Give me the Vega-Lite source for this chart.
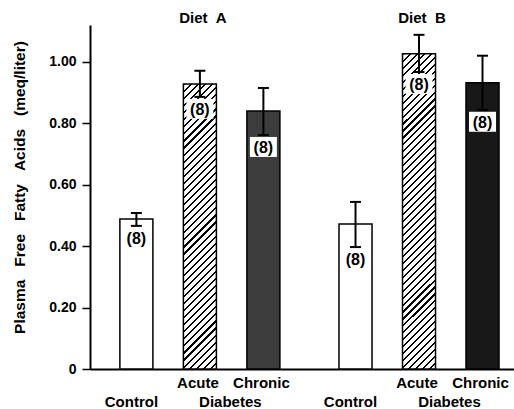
{
"$schema": "https://vega.github.io/schema/vega-lite/v6.json",
"width": 424, "height": 344,
"autosize": {"type": "none"},
"padding": {"left": 90, "top": 25, "right": 0, "bottom": 40},
"background": "#ffffff",
"config": {"view": {"stroke": null}, "font": "Liberation Sans"},
"data": {"values": [
{"diet":"Diet A","cond":"Control","mean":0.488,"lo":0.466,"hi":0.508,"n":"(8)"},
{"diet":"Diet A","cond":"Acute","mean":0.928,"lo":0.886,"hi":0.971,"n":"(8)"},
{"diet":"Diet A","cond":"Chronic","mean":0.840,"lo":0.762,"hi":0.915,"n":"(8)"},
{"diet":"Diet B","cond":"Control","mean":0.472,"lo":0.397,"hi":0.544,"n":"(8)"},
{"diet":"Diet B","cond":"Acute","mean":1.026,"lo":0.967,"hi":1.088,"n":"(8)"},
{"diet":"Diet B","cond":"Chronic","mean":0.932,"lo":0.844,"hi":1.020,"n":"(8)"}
]},
"encoding": {
  "x":{"field":"diet","type":"nominal","scale":{"domain":["Diet A","Diet B"],"paddingInner":0.133,"paddingOuter":0.034,"align":1},
   "axis":{"title":null,"labels":false,"ticks":false,"domain":true,"domainColor":"#000000","domainWidth":2,"grid":false}},
  "xOffset":{"field":"cond","type":"nominal","scale":{"domain":["Control","Acute","Chronic"],"paddingInner":0.48,"paddingOuter":0.236}}
},
"layer": [
{"transform":[{"filter":"datum.cond == 'Control'"}],
 "mark":{"type":"bar","fill":"#ffffff","stroke":"#000000","strokeWidth":1.5},
 "encoding":{
  "y":{"field":"mean","type":"quantitative","scale":{"domain":[0,1.12],"nice":false},
   "axis":{"title":"Plasma\u00a0\u00a0\u00a0Free\u00a0\u00a0\u00a0Fatty\u00a0\u00a0\u00a0Acids\u00a0\u00a0\u00a0(meq/liter)","titleFont":"Liberation Sans","titleFontSize":15.5,"titleFontWeight":"bold","titleColor":"#000000","titlePadding":21,"titleY":162,
    "values":[0,0.2,0.4,0.6,0.8,1],"labelExpr":"datum.value == 0 ? '0' : format(datum.value, '.2f')","labelFont":"Liberation Sans","labelFontSize":14,"labelFontWeight":"bold","labelColor":"#000000","labelPadding":6,
    "tickSize":8,"tickWidth":1.5,"tickColor":"#000000","domainColor":"#000000","domainWidth":2,"grid":false}}
 }},
{"transform":[{"filter":"datum.cond == 'Acute' && datum.diet == 'Diet A'"}],
 "mark":{"type":"bar","stroke":"#000000","strokeWidth":1.5,
  "fill":{"gradient":"linear","x1":0,"y1":0,"x2":0.1275,"y2":1.101,"stops":[
{"offset":0,"color":"#000"},{"offset":0.00667,"color":"#000"},{"offset":0.00667,"color":"#fff"},
{"offset":0.02222,"color":"#fff"},{"offset":0.02222,"color":"#000"},{"offset":0.02889,"color":"#000"},{"offset":0.02889,"color":"#fff"},
{"offset":0.04444,"color":"#fff"},{"offset":0.04444,"color":"#000"},{"offset":0.05111,"color":"#000"},{"offset":0.05111,"color":"#fff"},
{"offset":0.06667,"color":"#fff"},{"offset":0.06667,"color":"#000"},{"offset":0.07333,"color":"#000"},{"offset":0.07333,"color":"#fff"},
{"offset":0.08889,"color":"#fff"},{"offset":0.08889,"color":"#000"},{"offset":0.09556,"color":"#000"},{"offset":0.09556,"color":"#fff"},
{"offset":0.11111,"color":"#fff"},{"offset":0.11111,"color":"#000"},{"offset":0.11778,"color":"#000"},{"offset":0.11778,"color":"#fff"},
{"offset":0.13333,"color":"#fff"},{"offset":0.13333,"color":"#000"},{"offset":0.14,"color":"#000"},{"offset":0.14,"color":"#fff"},
{"offset":0.15556,"color":"#fff"},{"offset":0.15556,"color":"#000"},{"offset":0.16222,"color":"#000"},{"offset":0.16222,"color":"#fff"},
{"offset":0.17778,"color":"#fff"},{"offset":0.17778,"color":"#000"},{"offset":0.18444,"color":"#000"},{"offset":0.18444,"color":"#fff"},
{"offset":0.2,"color":"#fff"},{"offset":0.2,"color":"#000"},{"offset":0.20667,"color":"#000"},{"offset":0.20667,"color":"#fff"},
{"offset":0.22222,"color":"#fff"},{"offset":0.22222,"color":"#000"},{"offset":0.22889,"color":"#000"},{"offset":0.22889,"color":"#fff"},
{"offset":0.24444,"color":"#fff"},{"offset":0.24444,"color":"#000"},{"offset":0.25111,"color":"#000"},{"offset":0.25111,"color":"#fff"},
{"offset":0.26667,"color":"#fff"},{"offset":0.26667,"color":"#000"},{"offset":0.27333,"color":"#000"},{"offset":0.27333,"color":"#fff"},
{"offset":0.28889,"color":"#fff"},{"offset":0.28889,"color":"#000"},{"offset":0.29556,"color":"#000"},{"offset":0.29556,"color":"#fff"},
{"offset":0.31111,"color":"#fff"},{"offset":0.31111,"color":"#000"},{"offset":0.31778,"color":"#000"},{"offset":0.31778,"color":"#fff"},
{"offset":0.33333,"color":"#fff"},{"offset":0.33333,"color":"#000"},{"offset":0.34,"color":"#000"},{"offset":0.34,"color":"#fff"},
{"offset":0.35556,"color":"#fff"},{"offset":0.35556,"color":"#000"},{"offset":0.36222,"color":"#000"},{"offset":0.36222,"color":"#fff"},
{"offset":0.37778,"color":"#fff"},{"offset":0.37778,"color":"#000"},{"offset":0.38444,"color":"#000"},{"offset":0.38444,"color":"#fff"},
{"offset":0.4,"color":"#fff"},{"offset":0.4,"color":"#000"},{"offset":0.40667,"color":"#000"},{"offset":0.40667,"color":"#fff"},
{"offset":0.42222,"color":"#fff"},{"offset":0.42222,"color":"#000"},{"offset":0.42889,"color":"#000"},{"offset":0.42889,"color":"#fff"},
{"offset":0.44444,"color":"#fff"},{"offset":0.44444,"color":"#000"},{"offset":0.45111,"color":"#000"},{"offset":0.45111,"color":"#fff"},
{"offset":0.46667,"color":"#fff"},{"offset":0.46667,"color":"#000"},{"offset":0.47333,"color":"#000"},{"offset":0.47333,"color":"#fff"},
{"offset":0.48889,"color":"#fff"},{"offset":0.48889,"color":"#000"},{"offset":0.49556,"color":"#000"},{"offset":0.49556,"color":"#fff"},
{"offset":0.51111,"color":"#fff"},{"offset":0.51111,"color":"#000"},{"offset":0.51778,"color":"#000"},{"offset":0.51778,"color":"#fff"},
{"offset":0.53333,"color":"#fff"},{"offset":0.53333,"color":"#000"},{"offset":0.54,"color":"#000"},{"offset":0.54,"color":"#fff"},
{"offset":0.55556,"color":"#fff"},{"offset":0.55556,"color":"#000"},{"offset":0.56222,"color":"#000"},{"offset":0.56222,"color":"#fff"},
{"offset":0.57778,"color":"#fff"},{"offset":0.57778,"color":"#000"},{"offset":0.58444,"color":"#000"},{"offset":0.58444,"color":"#fff"},
{"offset":0.6,"color":"#fff"},{"offset":0.6,"color":"#000"},{"offset":0.60667,"color":"#000"},{"offset":0.60667,"color":"#fff"},
{"offset":0.62222,"color":"#fff"},{"offset":0.62222,"color":"#000"},{"offset":0.62889,"color":"#000"},{"offset":0.62889,"color":"#fff"},
{"offset":0.64444,"color":"#fff"},{"offset":0.64444,"color":"#000"},{"offset":0.65111,"color":"#000"},{"offset":0.65111,"color":"#fff"},
{"offset":0.66667,"color":"#fff"},{"offset":0.66667,"color":"#000"},{"offset":0.67333,"color":"#000"},{"offset":0.67333,"color":"#fff"},
{"offset":0.68889,"color":"#fff"},{"offset":0.68889,"color":"#000"},{"offset":0.69556,"color":"#000"},{"offset":0.69556,"color":"#fff"},
{"offset":0.71111,"color":"#fff"},{"offset":0.71111,"color":"#000"},{"offset":0.71778,"color":"#000"},{"offset":0.71778,"color":"#fff"},
{"offset":0.73333,"color":"#fff"},{"offset":0.73333,"color":"#000"},{"offset":0.74,"color":"#000"},{"offset":0.74,"color":"#fff"},
{"offset":0.75556,"color":"#fff"},{"offset":0.75556,"color":"#000"},{"offset":0.76222,"color":"#000"},{"offset":0.76222,"color":"#fff"},
{"offset":0.77778,"color":"#fff"},{"offset":0.77778,"color":"#000"},{"offset":0.78444,"color":"#000"},{"offset":0.78444,"color":"#fff"},
{"offset":0.8,"color":"#fff"},{"offset":0.8,"color":"#000"},{"offset":0.80667,"color":"#000"},{"offset":0.80667,"color":"#fff"},
{"offset":0.82222,"color":"#fff"},{"offset":0.82222,"color":"#000"},{"offset":0.82889,"color":"#000"},{"offset":0.82889,"color":"#fff"},
{"offset":0.84444,"color":"#fff"},{"offset":0.84444,"color":"#000"},{"offset":0.85111,"color":"#000"},{"offset":0.85111,"color":"#fff"},
{"offset":0.86667,"color":"#fff"},{"offset":0.86667,"color":"#000"},{"offset":0.87333,"color":"#000"},{"offset":0.87333,"color":"#fff"},
{"offset":0.88889,"color":"#fff"},{"offset":0.88889,"color":"#000"},{"offset":0.89556,"color":"#000"},{"offset":0.89556,"color":"#fff"},
{"offset":0.91111,"color":"#fff"},{"offset":0.91111,"color":"#000"},{"offset":0.91778,"color":"#000"},{"offset":0.91778,"color":"#fff"},
{"offset":0.93333,"color":"#fff"},{"offset":0.93333,"color":"#000"},{"offset":0.94,"color":"#000"},{"offset":0.94,"color":"#fff"},
{"offset":0.95556,"color":"#fff"},{"offset":0.95556,"color":"#000"},{"offset":0.96222,"color":"#000"},{"offset":0.96222,"color":"#fff"},
{"offset":0.97778,"color":"#fff"},{"offset":0.97778,"color":"#000"},{"offset":0.98444,"color":"#000"},{"offset":0.98444,"color":"#fff"},
{"offset":1,"color":"#fff"}]}},
 "encoding":{"y":{"field":"mean","type":"quantitative","scale":{"domain":[0,1.12],"nice":false}}}},
{"transform":[{"filter":"datum.cond == 'Acute' && datum.diet == 'Diet B'"}],
 "mark":{"type":"bar","stroke":"#000000","strokeWidth":1.5,
  "fill":{"gradient":"linear","x1":0,"y1":0,"x2":0.1144,"y2":1.0927,"stops":[
{"offset":0,"color":"#000"},{"offset":0.006,"color":"#000"},{"offset":0.006,"color":"#fff"},
{"offset":0.02,"color":"#fff"},{"offset":0.02,"color":"#000"},{"offset":0.026,"color":"#000"},{"offset":0.026,"color":"#fff"},
{"offset":0.04,"color":"#fff"},{"offset":0.04,"color":"#000"},{"offset":0.046,"color":"#000"},{"offset":0.046,"color":"#fff"},
{"offset":0.06,"color":"#fff"},{"offset":0.06,"color":"#000"},{"offset":0.066,"color":"#000"},{"offset":0.066,"color":"#fff"},
{"offset":0.08,"color":"#fff"},{"offset":0.08,"color":"#000"},{"offset":0.086,"color":"#000"},{"offset":0.086,"color":"#fff"},
{"offset":0.1,"color":"#fff"},{"offset":0.1,"color":"#000"},{"offset":0.106,"color":"#000"},{"offset":0.106,"color":"#fff"},
{"offset":0.12,"color":"#fff"},{"offset":0.12,"color":"#000"},{"offset":0.126,"color":"#000"},{"offset":0.126,"color":"#fff"},
{"offset":0.14,"color":"#fff"},{"offset":0.14,"color":"#000"},{"offset":0.146,"color":"#000"},{"offset":0.146,"color":"#fff"},
{"offset":0.16,"color":"#fff"},{"offset":0.16,"color":"#000"},{"offset":0.166,"color":"#000"},{"offset":0.166,"color":"#fff"},
{"offset":0.18,"color":"#fff"},{"offset":0.18,"color":"#000"},{"offset":0.186,"color":"#000"},{"offset":0.186,"color":"#fff"},
{"offset":0.2,"color":"#fff"},{"offset":0.2,"color":"#000"},{"offset":0.206,"color":"#000"},{"offset":0.206,"color":"#fff"},
{"offset":0.22,"color":"#fff"},{"offset":0.22,"color":"#000"},{"offset":0.226,"color":"#000"},{"offset":0.226,"color":"#fff"},
{"offset":0.24,"color":"#fff"},{"offset":0.24,"color":"#000"},{"offset":0.246,"color":"#000"},{"offset":0.246,"color":"#fff"},
{"offset":0.26,"color":"#fff"},{"offset":0.26,"color":"#000"},{"offset":0.266,"color":"#000"},{"offset":0.266,"color":"#fff"},
{"offset":0.28,"color":"#fff"},{"offset":0.28,"color":"#000"},{"offset":0.286,"color":"#000"},{"offset":0.286,"color":"#fff"},
{"offset":0.3,"color":"#fff"},{"offset":0.3,"color":"#000"},{"offset":0.306,"color":"#000"},{"offset":0.306,"color":"#fff"},
{"offset":0.32,"color":"#fff"},{"offset":0.32,"color":"#000"},{"offset":0.326,"color":"#000"},{"offset":0.326,"color":"#fff"},
{"offset":0.34,"color":"#fff"},{"offset":0.34,"color":"#000"},{"offset":0.346,"color":"#000"},{"offset":0.346,"color":"#fff"},
{"offset":0.36,"color":"#fff"},{"offset":0.36,"color":"#000"},{"offset":0.366,"color":"#000"},{"offset":0.366,"color":"#fff"},
{"offset":0.38,"color":"#fff"},{"offset":0.38,"color":"#000"},{"offset":0.386,"color":"#000"},{"offset":0.386,"color":"#fff"},
{"offset":0.4,"color":"#fff"},{"offset":0.4,"color":"#000"},{"offset":0.406,"color":"#000"},{"offset":0.406,"color":"#fff"},
{"offset":0.42,"color":"#fff"},{"offset":0.42,"color":"#000"},{"offset":0.426,"color":"#000"},{"offset":0.426,"color":"#fff"},
{"offset":0.44,"color":"#fff"},{"offset":0.44,"color":"#000"},{"offset":0.446,"color":"#000"},{"offset":0.446,"color":"#fff"},
{"offset":0.46,"color":"#fff"},{"offset":0.46,"color":"#000"},{"offset":0.466,"color":"#000"},{"offset":0.466,"color":"#fff"},
{"offset":0.48,"color":"#fff"},{"offset":0.48,"color":"#000"},{"offset":0.486,"color":"#000"},{"offset":0.486,"color":"#fff"},
{"offset":0.5,"color":"#fff"},{"offset":0.5,"color":"#000"},{"offset":0.506,"color":"#000"},{"offset":0.506,"color":"#fff"},
{"offset":0.52,"color":"#fff"},{"offset":0.52,"color":"#000"},{"offset":0.526,"color":"#000"},{"offset":0.526,"color":"#fff"},
{"offset":0.54,"color":"#fff"},{"offset":0.54,"color":"#000"},{"offset":0.546,"color":"#000"},{"offset":0.546,"color":"#fff"},
{"offset":0.56,"color":"#fff"},{"offset":0.56,"color":"#000"},{"offset":0.566,"color":"#000"},{"offset":0.566,"color":"#fff"},
{"offset":0.58,"color":"#fff"},{"offset":0.58,"color":"#000"},{"offset":0.586,"color":"#000"},{"offset":0.586,"color":"#fff"},
{"offset":0.6,"color":"#fff"},{"offset":0.6,"color":"#000"},{"offset":0.606,"color":"#000"},{"offset":0.606,"color":"#fff"},
{"offset":0.62,"color":"#fff"},{"offset":0.62,"color":"#000"},{"offset":0.626,"color":"#000"},{"offset":0.626,"color":"#fff"},
{"offset":0.64,"color":"#fff"},{"offset":0.64,"color":"#000"},{"offset":0.646,"color":"#000"},{"offset":0.646,"color":"#fff"},
{"offset":0.66,"color":"#fff"},{"offset":0.66,"color":"#000"},{"offset":0.666,"color":"#000"},{"offset":0.666,"color":"#fff"},
{"offset":0.68,"color":"#fff"},{"offset":0.68,"color":"#000"},{"offset":0.686,"color":"#000"},{"offset":0.686,"color":"#fff"},
{"offset":0.7,"color":"#fff"},{"offset":0.7,"color":"#000"},{"offset":0.706,"color":"#000"},{"offset":0.706,"color":"#fff"},
{"offset":0.72,"color":"#fff"},{"offset":0.72,"color":"#000"},{"offset":0.726,"color":"#000"},{"offset":0.726,"color":"#fff"},
{"offset":0.74,"color":"#fff"},{"offset":0.74,"color":"#000"},{"offset":0.746,"color":"#000"},{"offset":0.746,"color":"#fff"},
{"offset":0.76,"color":"#fff"},{"offset":0.76,"color":"#000"},{"offset":0.766,"color":"#000"},{"offset":0.766,"color":"#fff"},
{"offset":0.78,"color":"#fff"},{"offset":0.78,"color":"#000"},{"offset":0.786,"color":"#000"},{"offset":0.786,"color":"#fff"},
{"offset":0.8,"color":"#fff"},{"offset":0.8,"color":"#000"},{"offset":0.806,"color":"#000"},{"offset":0.806,"color":"#fff"},
{"offset":0.82,"color":"#fff"},{"offset":0.82,"color":"#000"},{"offset":0.826,"color":"#000"},{"offset":0.826,"color":"#fff"},
{"offset":0.84,"color":"#fff"},{"offset":0.84,"color":"#000"},{"offset":0.846,"color":"#000"},{"offset":0.846,"color":"#fff"},
{"offset":0.86,"color":"#fff"},{"offset":0.86,"color":"#000"},{"offset":0.866,"color":"#000"},{"offset":0.866,"color":"#fff"},
{"offset":0.88,"color":"#fff"},{"offset":0.88,"color":"#000"},{"offset":0.886,"color":"#000"},{"offset":0.886,"color":"#fff"},
{"offset":0.9,"color":"#fff"},{"offset":0.9,"color":"#000"},{"offset":0.906,"color":"#000"},{"offset":0.906,"color":"#fff"},
{"offset":0.92,"color":"#fff"},{"offset":0.92,"color":"#000"},{"offset":0.926,"color":"#000"},{"offset":0.926,"color":"#fff"},
{"offset":0.94,"color":"#fff"},{"offset":0.94,"color":"#000"},{"offset":0.946,"color":"#000"},{"offset":0.946,"color":"#fff"},
{"offset":0.96,"color":"#fff"},{"offset":0.96,"color":"#000"},{"offset":0.966,"color":"#000"},{"offset":0.966,"color":"#fff"},
{"offset":0.98,"color":"#fff"},{"offset":0.98,"color":"#000"},{"offset":0.986,"color":"#000"},{"offset":0.986,"color":"#fff"},
{"offset":1,"color":"#fff"}]}},
 "encoding":{"y":{"field":"mean","type":"quantitative","scale":{"domain":[0,1.12],"nice":false}}}},
{"transform":[{"filter":"datum.cond == 'Chronic' && datum.diet == 'Diet A'"}],
 "mark":{"type":"bar","fill":"#3d3d3d","stroke":"#000000","strokeWidth":1.5},
 "encoding":{"y":{"field":"mean","type":"quantitative","scale":{"domain":[0,1.12],"nice":false}}}},
{"transform":[{"filter":"datum.cond == 'Chronic' && datum.diet == 'Diet B'"}],
 "mark":{"type":"bar","fill":"#181818","stroke":"#000000","strokeWidth":1.5},
 "encoding":{"y":{"field":"mean","type":"quantitative","scale":{"domain":[0,1.12],"nice":false}}}},
{"transform":[{"filter":"datum.cond != 'Control'"}],
 "mark":{"type":"point","shape":"M-1.35,0.2L1.35,0.2L1.35,2.2L-1.35,2.2Z","size":400,"filled":true,"fill":"#ffffff","strokeWidth":0,"opacity":1},
 "encoding":{"y":{"field":"lo","type":"quantitative","scale":{"domain":[0,1.12],"nice":false}}}},
{"mark":{"type":"rule","color":"#000000","strokeWidth":2},
 "encoding":{"y":{"field":"lo","type":"quantitative","scale":{"domain":[0,1.12],"nice":false}},"y2":{"field":"hi"}}},
{"mark":{"type":"tick","color":"#000000","size":11,"thickness":2,"opacity":1},
 "encoding":{"y":{"field":"hi","type":"quantitative","scale":{"domain":[0,1.12],"nice":false}}}},
{"mark":{"type":"tick","color":"#000000","size":11,"thickness":2,"opacity":1},
 "encoding":{"y":{"field":"lo","type":"quantitative","scale":{"domain":[0,1.12],"nice":false}}}},
{"mark":{"type":"text","font":"Liberation Sans","fontSize":16,"fontWeight":"bold","color":"#000000","baseline":"middle","dy":13},
 "encoding":{"y":{"field":"lo","type":"quantitative","scale":{"domain":[0,1.12],"nice":false}},"text":{"field":"n"}}},
{"data":{"values":[
  {"diet":"Diet A","cond":"Acute","label":"Diet\u00a0\u00a0A"},{"diet":"Diet B","cond":"Acute","label":"Diet\u00a0\u00a0B"}]},
 "mark":{"type":"text","font":"Liberation Sans","fontSize":15,"fontWeight":"bold","color":"#000000","baseline":"alphabetic","dy":-2,"dx":3},
 "encoding":{"y":{"datum":1.12,"type":"quantitative","scale":{"domain":[0,1.12],"nice":false}},"text":{"field":"label"}}},
{"data":{"values":[
  {"diet":"Diet A","cond":"Acute","label":"Acute"},{"diet":"Diet A","cond":"Chronic","label":"Chronic"},
  {"diet":"Diet B","cond":"Acute","label":"Acute"},{"diet":"Diet B","cond":"Chronic","label":"Chronic"}]},
 "mark":{"type":"text","font":"Liberation Sans","fontSize":15,"fontWeight":"bold","color":"#000000","baseline":"alphabetic","dy":19,"dx":-2},
 "encoding":{"y":{"datum":0,"type":"quantitative","scale":{"domain":[0,1.12],"nice":false}},"text":{"field":"label"}}},
{"data":{"values":[
  {"diet":"Diet A","cond":"Control","label":"Control"},{"diet":"Diet B","cond":"Control","label":"Control"}]},
 "mark":{"type":"text","font":"Liberation Sans","fontSize":15,"fontWeight":"bold","color":"#000000","baseline":"alphabetic","dy":38,"dx":-5},
 "encoding":{"y":{"datum":0,"type":"quantitative","scale":{"domain":[0,1.12],"nice":false}},"text":{"field":"label"}}},
{"data":{"values":[
  {"diet":"Diet A","cond":"Chronic","label":"Diabetes"},{"diet":"Diet B","cond":"Chronic","label":"Diabetes"}]},
 "mark":{"type":"text","font":"Liberation Sans","fontSize":15,"fontWeight":"bold","color":"#000000","baseline":"alphabetic","dy":38,"dx":-33},
 "encoding":{"y":{"datum":0,"type":"quantitative","scale":{"domain":[0,1.12],"nice":false}},"text":{"field":"label"}}}
]
}
